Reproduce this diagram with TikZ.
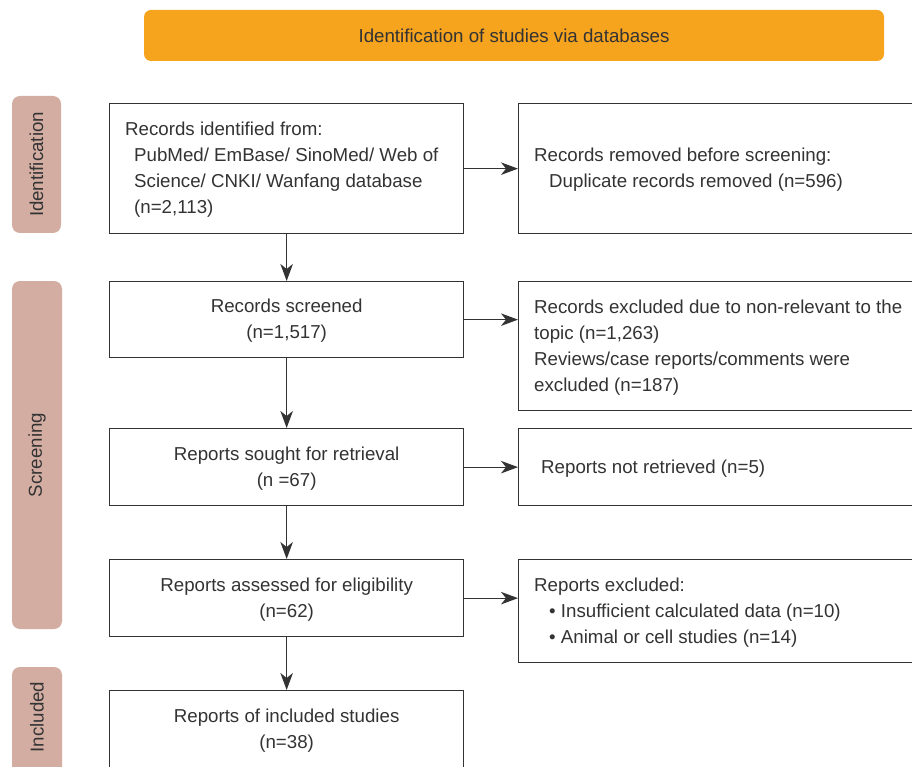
\documentclass[tikz,border=0pt]{standalone}
\usepackage{fontspec}
\setmainfont{Liberation Sans}
\usetikzlibrary{arrows.meta}
\definecolor{bannerc}{RGB}{246,163,30}
\definecolor{phasec}{RGB}{211,173,162}
\definecolor{ink}{RGB}{51,51,51}
\begin{document}
\begin{tikzpicture}[x=1pt,y=-1pt,
  every node/.style={font=\fontsize{18.7}{26}\selectfont, text=ink},
  lbox/.style={draw=ink, line width=1.3pt, minimum width=354pt, inner sep=0pt, align=center, anchor=north west},
  rbox/.style={draw=ink, line width=1.3pt, minimum width=432pt, inner sep=0pt, anchor=north west},
  txt/.style={inner sep=0pt, align=left, anchor=west},
  phasebox/.style={fill=phasec, rounded corners=8pt, inner sep=0pt},
  flow/.style={draw=ink, line width=1.2pt, -{Stealth[length=17pt,width=12.5pt,inset=5pt]}}
]
\useasboundingbox (0,0) rectangle (912,767);
\clip (0,0) rectangle (912,767);
\fill[white] (0,0) rectangle (912,767);

% banner
\node[fill=bannerc, rounded corners=7pt, minimum width=740pt, minimum height=51pt, inner sep=0pt] (banner) at (514,35.5) {Identification of studies via databases};

% phase labels
\node[phasebox, minimum width=49pt, minimum height=137pt] (idp) at (36.5,164.5) {};
\node[rotate=90, inner sep=0pt] (idt) at (idp) {Identification};
\node[phasebox, minimum width=50pt, minimum height=348pt] (scp) at (37,455) {};
\node[rotate=90, inner sep=0pt] (sct) at (scp) {Screening};
\node[phasebox, minimum width=50pt, minimum height=130pt] (inp) at (37,732) {};
\node[rotate=90, inner sep=0pt] (int) at (37,717) {Included};

% left column
\node[lbox, minimum height=130pt] (rec) at (109,103) {};
\node[txt] (rect) at ([xshift=16pt,yshift=-1.5pt]rec.west) {Records identified from:\\
  \hspace*{9pt}PubMed/ EmBase/ SinoMed/ Web of\\
  \hspace*{9pt}Science/ CNKI/ Wanfang database\\
  \hspace*{9pt}(n=2,113)};
\node[lbox, minimum height=76pt] (scr) at (109,281) {};
\node[inner sep=0pt, align=center] (scrt) at ([yshift=-1.5pt]scr.center) {Records screened\\(n=1,517)};
\node[lbox, minimum height=77pt] (sou) at (109,428) {};
\node[inner sep=0pt, align=center] (sout) at ([yshift=-1.5pt]sou.center) {Reports sought for retrieval\\(n =67)};
\node[lbox, minimum height=77pt] (ass) at (109,559) {};
\node[inner sep=0pt, align=center] (asst) at ([yshift=-1.5pt]ass.center) {Reports assessed for eligibility\\(n=62)};
\node[lbox, minimum height=78pt] (inc) at (109,690) {};
\node[inner sep=0pt, align=center] (inct) at ([yshift=-1.5pt]inc.center) {Reports of included studies\\(n=38)};

% right column
\node[rbox, minimum height=130pt] (rem) at (518,103) {};
\node[txt] (remt) at ([xshift=16pt,yshift=-1.5pt]rem.west) {Records removed before screening:\\
  \hspace*{15pt}Duplicate records removed (n=596)};
\node[rbox, minimum height=129pt] (exc) at (518,281) {};
\node[txt] (exct) at ([xshift=16pt,yshift=-1.5pt]exc.west) {Records excluded due to non-relevant to the\\
  topic (n=1,263)\\
  Reviews/case reports/comments were\\
  excluded (n=187)};
\node[rbox, minimum height=77pt] (nrt) at (518,428) {};
\node[txt] (nrtt) at ([xshift=23pt,yshift=-1.5pt]nrt.west) {Reports not retrieved (n=5)};
\node[rbox, minimum height=103pt] (rex) at (518,559) {};
\node[txt] (rext) at ([xshift=16pt,yshift=-1.5pt]rex.west) {Reports excluded:\\
  \hspace*{15pt}• Insufficient calculated data (n=10)\\
  \hspace*{15pt}• Animal or cell studies (n=14)};

% connectors
\draw[flow] (rec.south) -- (scr.north);
\draw[flow] (scr.south) -- (sou.north);
\draw[flow] (sou.south) -- (ass.north);
\draw[flow] (ass.south) -- (inc.north);
\draw[flow] (rec.east) -- (rec.east -| rem.west);
\draw[flow] (scr.east) -- (scr.east -| exc.west);
\draw[flow] (sou.east) -- (sou.east -| nrt.west);
\draw[flow] (ass.east) -- (ass.east -| rex.west);
\end{tikzpicture}
\end{document}
